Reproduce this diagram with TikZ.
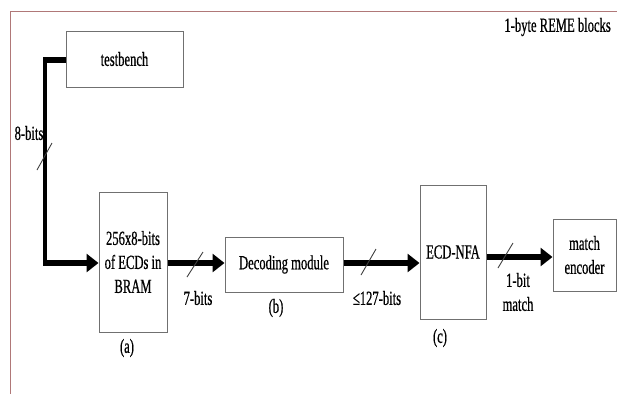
\documentclass[tikz,border=0pt]{standalone}
\usepackage{fontspec}
\setmainfont[FakeStretch=0.63,FakeBold=0.6]{Liberation Serif}
\usetikzlibrary{arrows.meta}
\definecolor{framec}{HTML}{B07878}
\definecolor{boxc}{HTML}{707070}
\tikzset{
  blk/.style={draw=boxc, line width=1pt, minimum width=#1, inner sep=0pt, align=center},
  arr/.style={line width=6pt, -{Triangle[length=12pt,width=18pt]}},
  thick6/.style={line width=6pt},
  slash/.style={draw=black!75, line width=0.9pt},
  lbl/.style={inner sep=0pt, align=center},
}
\begin{document}
\begin{tikzpicture}[x=1pt,y=-1pt,font=\fontsize{20}{24}\selectfont]
\useasboundingbox (0,0) rectangle (617,394);
% frame
\draw[framec, line width=1pt] (617,11) -- (10,11) -- (10,394);
% blocks
\node[blk=117pt, minimum height=56pt] (tb) at (124.5,59) {testbench};
\node[blk=68pt, minimum height=140pt] (bram) at (133,262) {256x8-bits\\of ECDs in\\BRAM};
\node[blk=118pt, minimum height=55pt] (dec) at (284,264.5) {Decoding module};
\node[blk=66pt, minimum height=134pt] (nfa) at (453,252) {ECD-NFA};
\node[blk=63pt, minimum height=72pt] (enc) at (584.5,255) {match\\encoder};
% corner coordinates
\coordinate (c1) at (43,60);
\coordinate (c2) at (43,263);
% connectors
\draw[thick6] (tb.west |- c1) -- (c1);
\draw[line width=4pt] (45,57) -- (45,266);
\draw[arr] (c2) -- (c2 -| bram.west);
\coordinate (b1) at (bram.east |- 0,263);
\draw[arr] (b1) -- (b1 -| dec.west);
\coordinate (d1) at (dec.east |- 0,263);
\draw[arr] (d1) -- (d1 -| nfa.west);
\coordinate (n1) at (nfa.east |- 0,257);
\draw[arr] (n1) -- (n1 -| enc.west);
% bus slashes
\draw[slash] (37,170) -- (52,143);
\draw[slash] (187,277) -- (203,252);
\draw[slash] (361,275) -- (376,249);
\draw[slash] (498,268) -- (513,243);
% labels
\node[lbl] (l8) at (29,133) {8-bits};
\node[lbl] (l7) at (198,298) {7-bits};
\node[lbl] (l127) at (377,298) {≤127-bits};
\node[lbl] (l1) at (518,292) {1-bit\\match};
\node[lbl] (la) at (127,348) {(a)};
\node[lbl] (lb) at (276,308) {(b)};
\node[lbl] (lc) at (440,338) {(c)};
\node[lbl, anchor=east] (title) at (611,27) {1-byte REME blocks};
\end{tikzpicture}
\end{document}
